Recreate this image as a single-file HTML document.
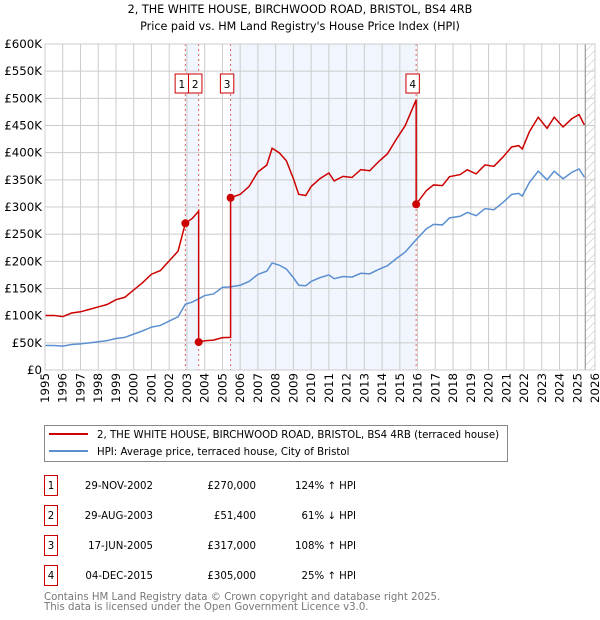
<!DOCTYPE html>
<html><head><meta charset="utf-8"><style>
body{margin:0;background:#fff}
svg{font-family:"DejaVu Sans","Liberation Sans",sans-serif;display:block}
</style></head><body>
<svg id="c" width="600" height="620">
<text x="300" y="13" text-anchor="middle" font-size="11.2">2, THE WHITE HOUSE, BIRCHWOOD ROAD, BRISTOL, BS4 4RB</text>
<text x="300" y="30" text-anchor="middle" font-size="11.2">Price paid vs. HM Land Registry's House Price Index (HPI)</text>
<g id="plot"></g>
<g>
<rect x="44.5" y="425.5" width="463" height="36" fill="#fff" stroke="#888"/>
<line x1="49" y1="434" x2="88" y2="434" stroke="#cc0000" stroke-width="2"/>
<text x="97" y="438" font-size="10.2">2, THE WHITE HOUSE, BIRCHWOOD ROAD, BRISTOL, BS4 4RB (terraced house)</text>
<line x1="49" y1="451" x2="88" y2="451" stroke="#5b8fd0" stroke-width="2"/>
<text x="97" y="455" font-size="10.2">HPI: Average price, terraced house, City of Bristol</text>
</g>
<g id="tbl" font-size="10.2"></g>
<text x="44" y="600" font-size="10.2" fill="#777">Contains HM Land Registry data © Crown copyright and database right 2025.</text>
<text x="44" y="610" font-size="10.2" fill="#777">This data is licensed under the Open Government Licence v3.0.</text>
</svg>
<script>
const hpiYears=[1995,1995.5,1996,1996.5,1997,1997.5,1998,1998.5,1999,1999.5,2000,2000.5,2001,2001.5,2002,2002.5,2002.91,2003.3,2003.66,2004,2004.5,2005,2005.46,2006,2006.5,2007,2007.5,2007.8,2008.2,2008.6,2009,2009.3,2009.7,2010,2010.5,2011,2011.3,2011.8,2012.3,2012.8,2013.3,2013.8,2014.3,2014.8,2015.3,2015.92,2016.5,2016.9,2017.4,2017.8,2018.4,2018.8,2019.3,2019.8,2020.3,2020.8,2021.3,2021.7,2021.9,2022.3,2022.8,2023.3,2023.7,2024.2,2024.7,2025.1,2025.4];
const hpiValues=[45,45,44,47,48,50,52,54,58,60,66,72,79,82,90,98,121,125,131,137,140,152,153,156,163,176,182,197,193,186,170,156,155,163,170,175,168,172,171,178,177,185,192,205,217,240,260,268,267,280,283,290,284,297,295,308,323,325,320,345,366,350,366,352,364,370,355];
const saleLabels=["1","2","3","4"];
const saleDates=[2002.91,2003.66,2005.46,2015.92];
const salePrices=[270,51.4,317,305];
const saleDateText=["29-NOV-2002","29-AUG-2003","17-JUN-2005","04-DEC-2015"];
const salePriceText=["£270,000","£51,400","£317,000","£305,000"];
const saleHpiText=["124% ↑ HPI","61% ↓ HPI","108% ↑ HPI","25% ↑ HPI"];
const yTicks=[0,50,100,150,200,250,300,350,400,450,500,550,600];
const yTickLabels=["£0","£50K","£100K","£150K","£200K","£250K","£300K","£350K","£400K","£450K","£500K","£550K","£600K"];
const xYears=[1995,1996,1997,1998,1999,2000,2001,2002,2003,2004,2005,2006,2007,2008,2009,2010,2011,2012,2013,2014,2015,2016,2017,2018,2019,2020,2021,2022,2023,2024,2025,2026];

const NS="http://www.w3.org/2000/svg";
const L=45,R=595,T=44,B=370;
const X=y=>L+(y-1995)/(2026-1995)*(R-L);
const Y=v=>B-v/600*(B-T);
const plot=document.getElementById('plot');
function mk(tag,at,par){const e=document.createElementNS(NS,tag);for(const k in at)e.setAttribute(k,at[k]);(par||plot).appendChild(e);return e;}
function hpiAt(t){for(let i=1;i<hpiYears.length;i++){if(t<=hpiYears[i]){const a=hpiYears[i-1],b=hpiYears[i];return hpiValues[i-1]+(hpiValues[i]-hpiValues[i-1])*(t-a)/(b-a);}}return hpiValues[hpiValues.length-1];}

let s1=mk('rect',{x:X(saleDates[0]),y:T,width:X(saleDates[1])-X(saleDates[0]),height:B-T,fill:'#f1f5fd'});


let s2=mk('rect',{x:X(saleDates[2]),y:T,width:X(saleDates[3])-X(saleDates[2]),height:B-T,fill:'#f1f5fd'});


const defs=mk('defs',{});
const pat=mk('pattern',{id:'h',width:6,height:6,patternUnits:'userSpaceOnUse',patternTransform:'rotate(45)'},defs);
mk('line',{x1:0,y1:0,x2:0,y2:6,stroke:'#bbb','stroke-width':1},pat);
const hx=X(2025.45);
let hr=mk('rect',{x:hx,y:T,width:R-hx,height:B-T,fill:'url(#h)'});


yTicks.forEach((v,i)=>{
 let g=mk('line',{x1:L,x2:R,y1:Y(v),y2:Y(v),stroke:'#ccc'});
 
 
 let t=mk('text',{x:L-3,y:Y(v)+4,'text-anchor':'end','font-size':11.8});
 t.textContent=yTickLabels[i];
 
 
});
xYears.forEach(yr=>{
 let g=mk('line',{x1:X(yr),x2:X(yr),y1:T,y2:B,stroke:'#ccc'});
 
 
 let t=mk('text',{x:0,y:0,'font-size':11.8,'text-anchor':'end',transform:`translate(${X(yr)+4},${B+3}) rotate(-90)`});
 t.textContent=yr;
 
 
});
let hb=mk('line',{x1:hx,x2:hx,y1:T,y2:B,stroke:'#888'});


saleDates.forEach(d=>{
 let v=mk('line',{x1:X(d),x2:X(d),y1:T,y2:B,stroke:'#e06060','stroke-dasharray':'2,3','stroke-width':1});
 
 
});
let hp=mk('polyline',{points:hpiYears.map((t,i)=>X(t)+','+Y(hpiValues[i])).join(' '),fill:'none',stroke:'#5b8fd0','stroke-width':1.5});


let pts=[];
const segStart=[1995,...saleDates], segEnd=[...saleDates,2025.4];
const ratios=[salePrices[0]/hpiAt(saleDates[0]),...salePrices.map((p,i)=>p/hpiAt(saleDates[i]))];
for(let s=0;s<segStart.length;s++){
 const k=ratios[s];
 const ts=[segStart[s],...hpiYears.filter(t=>t>segStart[s]&&t<segEnd[s]),segEnd[s]];
 ts.forEach(t=>pts.push(X(t)+','+Y(hpiAt(t)*k)));
}
let pl=mk('polyline',{points:pts.join(' '),fill:'none',stroke:'#cc0000','stroke-width':1.5});


let prevEnd=-1e9;
saleDates.forEach((d,i)=>{
 let c=mk('circle',{cx:X(d),cy:Y(salePrices[i]),r:4,fill:'#cc0000'});
 
 
 let bx=X(d)-3.5-6.7;
 if(bx<prevEnd)bx=prevEnd;
 prevEnd=bx+13.4;
 let r=mk('rect',{x:bx,y:T+30,width:13.4,height:19,fill:'#fff',stroke:'#cc0000'});
 
 
 let t=mk('text',{x:bx+6.7,y:T+44,'text-anchor':'middle','font-size':10.5});
 t.textContent=saleLabels[i];
 
 
});
let fr=mk('rect',{x:L,y:T,width:R-L,height:B-T,fill:'none',stroke:'#ccc'});


const tbl=document.getElementById('tbl');
saleLabels.forEach((l,i)=>{
 const y0=475+i*30;
 let r=mk('rect',{x:44.5,y:y0+0.5,width:13,height:20,fill:'#fff',stroke:'#cc0000'},tbl);
 
 
 const cells=[[51,l,'middle'],[153,saleDateText[i],'end'],[256,salePriceText[i],'end'],[356,saleHpiText[i],'end']];
 cells.forEach((c,j)=>{
  let t=mk('text',{x:c[0],y:y0+14,'text-anchor':c[2]},tbl);
  t.textContent=c[1];
  
  
 });
});
</script>
</body></html>
